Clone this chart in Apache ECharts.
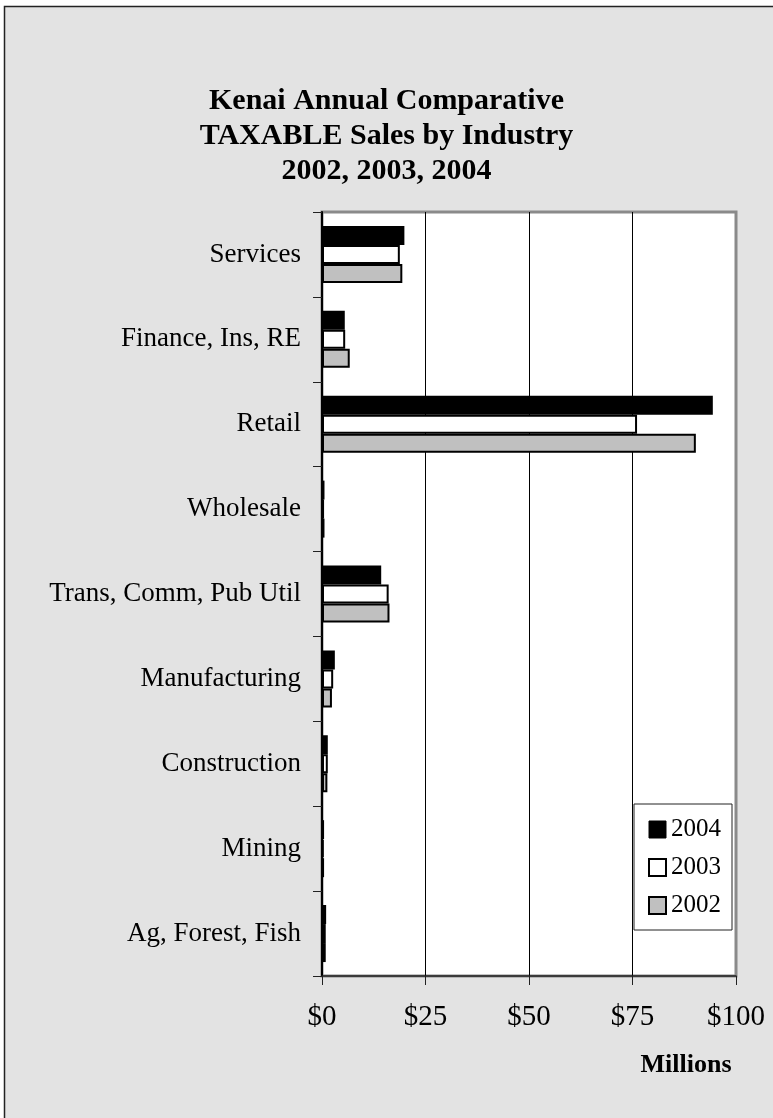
<!DOCTYPE html>
<html>
<head>
<meta charset="utf-8">
<script src="https://cdn.jsdelivr.net/npm/echarts@6/dist/echarts.min.js"></script>
<style>
  html, body { margin: 0; padding: 0; background: #fff; }
  #main { width: 773px; height: 1118px; }
</style>
</head>
<body>
<div id="main"></div>
<script>
// industries, top to bottom
const industries = ['Services', 'Finance, Ins, RE', 'Retail', 'Wholesale', 'Trans, Comm, Pub Util',
  'Manufacturing', 'Construction', 'Mining', 'Ag, Forest, Fish'];
// taxable sales, $ millions
const sales2004 = [19.9, 5.5, 94.4, 0.6, 14.3, 3.1, 1.4, 0.5, 1.0];
const sales2003 = [18.8, 5.6, 76.1, 0.5, 16.1, 2.7, 1.4, 0.4, 0.9];
const sales2002 = [19.4, 6.7, 90.3, 0.6, 16.3, 2.4, 1.3, 0.5, 0.9];
const xTicks = [0, 25, 50, 75, 100];

const serif = 'Liberation Serif';

var myChart = echarts.init(document.getElementById('main'));

function barSeries(name, data, fill) {
  return {
    name: name,
    type: 'bar',
    data: data,
    barWidth: 19,
    barGap: '0%',
    itemStyle: { color: fill, borderColor: '#000', borderWidth: 2 }
  };
}

var option = {
  backgroundColor: '#fff',
  animation: false,
  graphic: [{
    type: 'rect',
    z: -10,
    silent: true,
    shape: { x: 4.5, y: 6.5, width: 900, height: 1200 },
    style: { fill: '#e3e3e3', stroke: '#222', lineWidth: 1.5 }
  }],
  title: {
    text: 'Kenai Annual Comparative\nTAXABLE Sales by Industry\n2002, 2003, 2004',
    left: 'center',
    top: 84,
    padding: 0,
    textStyle: {
      fontFamily: serif, fontWeight: 'bold', fontSize: 30, lineHeight: 35, color: '#000'
    }
  },
  legend: {
    orient: 'vertical',
    left: 634,
    top: 804,
    padding: [13, 11, 12, 14],
    itemGap: 13,
    itemWidth: 17,
    itemHeight: 17,
    backgroundColor: '#fff',
    borderColor: '#222',
    borderWidth: 1,
    borderRadius: 0,
    textStyle: { fontFamily: serif, fontSize: 25, color: '#000' },
    data: [
      { name: '2004', icon: 'rect', itemStyle: { color: '#000', borderColor: '#000', borderWidth: 1 } },
      { name: '2003', icon: 'rect', itemStyle: { color: '#fff', borderColor: '#000', borderWidth: 2 } },
      { name: '2002', icon: 'rect', itemStyle: { color: '#c0c0c0', borderColor: '#000', borderWidth: 2 } }
    ]
  },
  grid: {
    left: 322,
    top: 212,
    width: 414,
    height: 764,
    show: true,
    backgroundColor: '#fff',
    borderColor: '#8a8a8a',
    borderWidth: 3
  },
  xAxis: {
    type: 'value',
    min: xTicks[0],
    max: xTicks[xTicks.length - 1],
    interval: 25,
    name: 'Millions',
    nameLocation: 'end',
    nameGap: 0,
    nameTextStyle: {
      fontFamily: serif, fontWeight: 'bold', fontSize: 26, color: '#000',
      align: 'center', verticalAlign: 'top', padding: [76, 100, 0, 0]
    },
    axisLine: { show: true, lineStyle: { color: '#222', width: 1.5 } },
    axisTick: { show: true, length: 9, lineStyle: { color: '#222' } },
    axisLabel: {
      fontFamily: serif, fontSize: 29, color: '#000', margin: 27,
      formatter: v => '$' + v
    },
    splitLine: { show: true, lineStyle: { color: ['#000', '#000', '#000', '#000', '#8a8a8a'], width: 1 } }
  },
  yAxis: {
    type: 'category',
    inverse: true,
    data: industries,
    axisLine: { show: true, lineStyle: { color: '#000', width: 2 } },
    axisTick: { show: true, length: 9, lineStyle: { color: '#222' } },
    axisLabel: { fontFamily: serif, fontSize: 27, color: '#000', margin: 21 },
    splitLine: { show: false }
  },
  series: [
    barSeries('2004', sales2004, '#000'),
    barSeries('2003', sales2003, '#fff'),
    barSeries('2002', sales2002, '#c0c0c0')
  ]
};

myChart.setOption(option);
</script>
</body>
</html>
